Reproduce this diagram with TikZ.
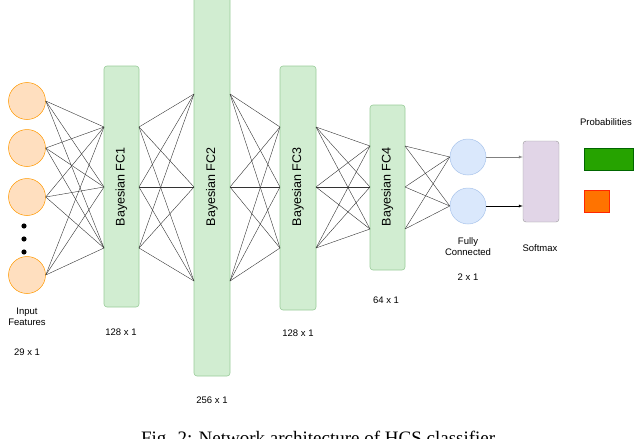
\documentclass[tikz,border=0pt]{standalone}
\usepackage{fontspec}
\setmainfont{Liberation Sans}
\newfontfamily\capfont{Liberation Serif}
\definecolor{smfill}{HTML}{E1D5E7}
\definecolor{fcfill}{HTML}{DAE8FC}
\definecolor{fcdraw}{HTML}{A9C4EB}
\begin{document}
\begin{tikzpicture}[x=1pt,y=-1pt,
  layer/.style={draw=green!50!black!40, fill=green!60!black!18, rounded corners=3pt, line width=0.6pt},
  inp/.style={circle, draw=orange!80!yellow, fill=orange!25, minimum size=37pt, inner sep=0pt, line width=0.5pt},
  fc/.style={circle, draw=fcdraw, fill=fcfill, minimum size=36pt, inner sep=0pt, line width=0.5pt},
  conn/.style={black!80, line width=0.4pt},
  lbl/.style={font=\fontsize{9.5}{11}\selectfont, align=center},
  ltxt/.style={rotate=90, font=\fontsize{12.5}{13}\selectfont}]
\useasboundingbox (0,0) rectangle (640,439);
% input neurons
\foreach \n/\y in {1/101,2/148,3/197,4/275} \node[inp] (i\n) at (27,\y) {};
\foreach \n/\y in {1/226,2/239,3/252} \fill (24,\y) circle (2.6);
% layers
\filldraw[layer] (104,66) rectangle (139,307);
\filldraw[layer] (194,-4) rectangle (230,376);
\filldraw[layer] (280,66) rectangle (316,310);
\filldraw[layer] (370,105) rectangle (405,270);
\node[ltxt] (t1) at (121.5,187) {Bayesian FC1};
\node[ltxt] (t2) at (212,187) {Bayesian FC2};
\node[ltxt] (t3) at (298,187) {Bayesian FC3};
\node[ltxt] (t4) at (387.5,187) {Bayesian FC4};
% connection points
\foreach \n/\y in {1/127,2/187,3/248} {\coordinate (aL\n) at (104,\y); \coordinate (aR\n) at (139,\y);}
\foreach \n/\y in {1/94,2/187,3/281} {\coordinate (bL\n) at (194,\y); \coordinate (bR\n) at (230,\y);}
\foreach \n/\y in {1/127,2/187,3/248} {\coordinate (cL\n) at (280,\y); \coordinate (cR\n) at (316,\y);}
\foreach \n/\y in {1/146,2/187,3/229} {\coordinate (dL\n) at (370,\y); \coordinate (dR\n) at (405,\y);}
% fully connected
\node[fc] (o1) at (468,157) {};
\node[fc] (o2) at (468,206) {};
% connections
\foreach \i in {1,...,4} \foreach \j in {1,2,3} \draw[conn] (i\i.east) -- (aL\j);
\foreach \i in {1,2,3} \foreach \j in {1,2,3} {
  \draw[conn] (aR\i) -- (bL\j);
  \draw[conn] (bR\i) -- (cL\j);
  \draw[conn] (cR\i) -- (dL\j);}
\foreach \i in {1,2,3} \foreach \j in {1,2} \draw[conn] (dR\i) -- (o\j.west);
% softmax
\node[draw=black!40, fill=smfill, rounded corners=3pt, minimum width=36pt, minimum height=81pt, inner sep=0pt] (sm) at (541,181.5) {};
\draw[-latex, black!50] (o1.east) -- (sm.west |- o1);
\draw[-latex] (o2.east) -- (sm.west |- o2);
% probabilities
\node[draw=green!40!black, fill=green!55!black!80!lime, minimum width=49pt, minimum height=22pt, inner sep=0pt] (p1) at (608.5,159) {};
\node[draw=red!70!orange, fill=orange!90!red, minimum width=25pt, minimum height=22pt, inner sep=0pt] (p2) at (596.5,201) {};
% labels
\node[lbl] (l0) at (27,317) {Input\\Features};
\node[lbl] (l0b) at (27,352) {29 x 1};
\node[lbl] (l1) at (121,332) {128 x 1};
\node[lbl] (l2) at (212,400) {256 x 1};
\node[lbl] (l3) at (298,333) {128 x 1};
\node[lbl] (l4) at (386,300) {64 x 1};
\node[lbl] (l5) at (468,247) {Fully\\Connected};
\node[lbl] (l5b) at (468,277) {2 x 1};
\node[lbl] (l6) at (540,248) {Softmax};
\node[lbl] (l7) at (606,122) {Probabilities};
\node[font=\capfont\fontsize{19}{20}\selectfont] (cap) at (320,440) {Fig. 2: Network architecture of HCS classifier.};
\end{tikzpicture}
\end{document}
